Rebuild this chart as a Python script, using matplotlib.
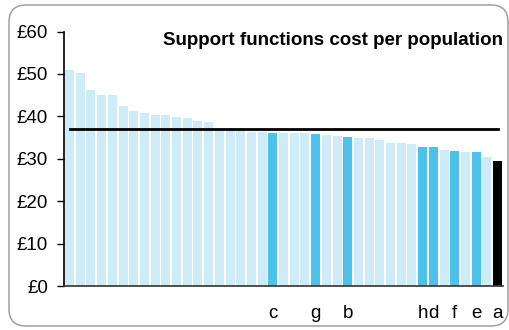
import matplotlib.pyplot as plt
from matplotlib.patches import FancyBboxPatch

plt.rcParams['font.family'] = ['Liberation Sans', 'DejaVu Sans']

costs = [50.9, 50.2, 46.2, 45.0, 45.0, 42.4, 41.2, 40.8, 40.3, 40.3,
         39.8, 39.6, 38.9, 38.6, 36.9, 36.9, 36.5, 36.3, 36.3, 36.0,
         36.0, 36.0, 36.0, 35.8, 35.5, 35.3, 35.1, 34.8, 34.8, 34.4,
         33.6, 33.6, 33.4, 32.7, 32.7, 32.0, 31.8, 31.5, 31.5, 30.3, 29.4]
labels = [''] * 19 + ['c', '', '', '', 'g', '', '', 'b', '', '', '', '', '', '',
                      'h', 'd', '', 'f', '', 'e', '', 'a']
# 0 = other, 1 = comparator, 2 = this authority
group = [0] * 19 + [1, 0, 0, 0, 1, 0, 0, 1, 0, 0, 0, 0, 0, 0,
                    1, 1, 0, 1, 0, 1, 0, 2]
average = 37.0
yticks = [0, 10, 20, 30, 40, 50, 60]

palette = {0: '#cdecf8', 1: '#4bc1eb', 2: '#000000'}
colors = [palette[g] for g in group]
x = list(range(len(costs)))

fig = plt.figure(figsize=(5.1, 3.3), dpi=100)
# rounded frame round the whole chart, in inches so the corners stay round
fig.patches.append(FancyBboxPatch((0.09, 0.04), 4.99, 3.21,
                                  boxstyle="round,pad=0,rounding_size=0.17",
                                  transform=fig.dpi_scale_trans, fill=False,
                                  edgecolor='#a0a0a0', linewidth=1.1))

ax = fig.add_axes([0.1255, 0.1333, 0.8605, 0.7712])
ax.bar(x, costs, width=0.84, color=colors)
ax.plot(x, [average] * len(x), color='black', linewidth=2)

ax.set_xlim(-0.52, 40.5)
ax.set_ylim(0, 60)
ax.set_yticks(yticks)
ax.set_yticklabels(['£%d' % v for v in yticks])
ax.set_xticks(x)
ax.set_xticklabels(labels)
ax.tick_params(axis='x', length=0, pad=14, labelsize=13.5)
ax.tick_params(axis='y', length=5, width=1, labelsize=13.5, pad=6.5)
for s in ['top', 'right']:
    ax.spines[s].set_visible(False)
ax.spines['left'].set_linewidth(1.2)
ax.spines['bottom'].set_linewidth(1.2)
ax.spines['bottom'].set_color('#333333')

ax.text(1.0, 0.966, 'Support functions cost per population', transform=ax.transAxes,
        ha='right', va='center', fontsize=13.5, fontweight='bold')

fig.savefig('out.png', dpi=100)
